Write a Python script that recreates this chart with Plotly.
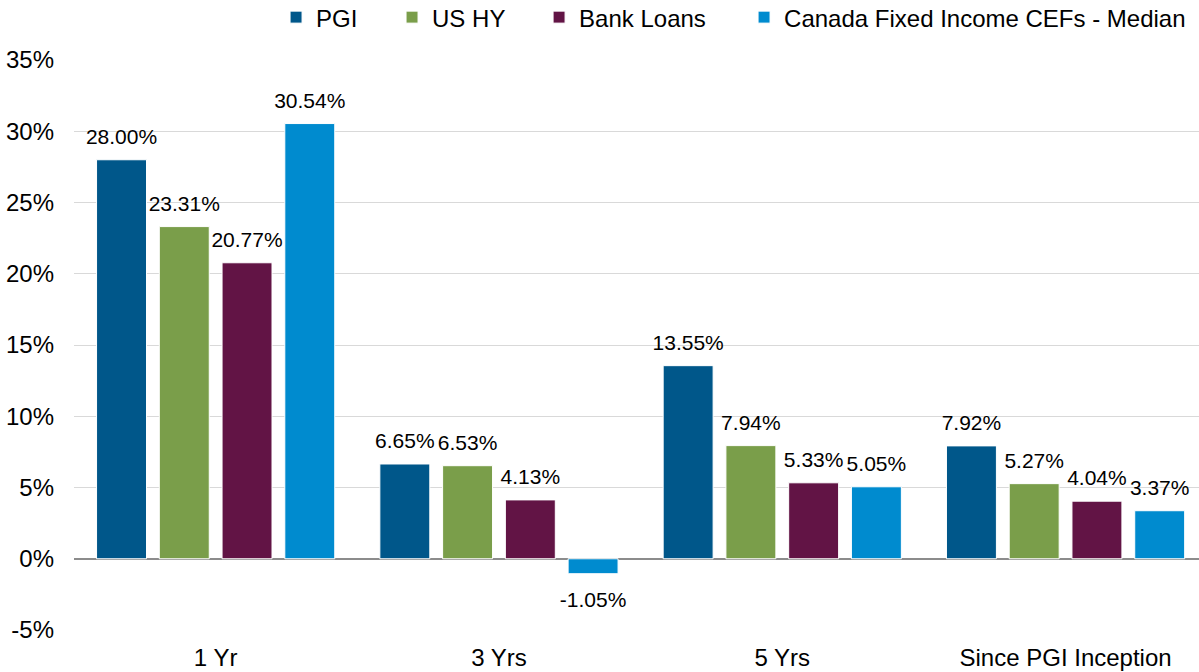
import plotly.graph_objects as go

categories = ["1 Yr", "3 Yrs", "5 Yrs", "Since PGI Inception"]
series_names = ["PGI", "US HY", "Bank Loans", "Canada Fixed Income CEFs - Median"]
pgi = [28.00, 6.65, 13.55, 7.92]
us_hy = [23.31, 6.53, 7.94, 5.27]
bank_loans = [20.77, 4.13, 5.33, 4.04]
canada_cefs = [30.54, -1.05, 5.05, 3.37]
colors = ["#00578A", "#7A9E4A", "#621445", "#008BCF"]
y_ticks = [-5, 0, 5, 10, 15, 20, 25, 30, 35]
y_tick_labels = [f"{v}%" for v in y_ticks]

FONT = "Liberation Sans, Arial, sans-serif"
NB = "\u00a0"

def spacer(size):
    return f"<span style='font-size:{size}px'>{NB}</span>"

legend_names = ["legend", "legend2", "legend3", "legend4"]
legend_x = [0.1796, 0.2827, 0.4134, 0.5956]

fig = go.Figure()
for i, (name, vals, col) in enumerate(zip(series_names, [pgi, us_hy, bank_loans, canada_cefs], colors)):
    texts = []
    for v in vals:
        lab = f"{v:.2f}%"
        sz = 62 if v >= 0 else 33
        texts.append(spacer(sz) + lab + spacer(sz))
    fig.add_trace(go.Bar(
        name=name, x=categories, y=vals,
        marker=dict(color=col, line=dict(color="white", width=1)),
        text=texts, textposition="outside", constraintext="none",
        cliponaxis=False,
        textfont=dict(family=FONT, size=21, color="#000000"),
        hoverinfo="skip",
        legend=legend_names[i],
    ))

leg_common = dict(orientation="h", xanchor="left", yanchor="middle", y=1.0745,
                  font=dict(family=FONT, size=24, color="#000000"),
                  bgcolor="rgba(0,0,0,0)", borderwidth=0, itemwidth=30)

fig.update_layout(
    width=1199, height=672,
    barmode="group", bargap=0.114, bargroupgap=0.204,
    plot_bgcolor="white", paper_bgcolor="white",
    margin=dict(l=74, r=0, t=59.5, b=41.8, autoexpand=False),
    font=dict(family=FONT, size=24, color="#000000"),
    showlegend=True,
    xaxis=dict(showgrid=False, showline=False, ticks="", tickfont=dict(size=24),
               range=[-0.5, 3.471], ticklabelstandoff=11),
    yaxis=dict(range=[-5, 35], tickvals=y_ticks, ticktext=y_tick_labels,
               showgrid=True, gridcolor="#D9D9D9", gridwidth=1,
               zeroline=True, zerolinecolor="#8C8C8C", zerolinewidth=1.5,
               showline=False, ticks="", tickfont=dict(size=24),
               ticklabelstandoff=19),
)
for ln, lx in zip(legend_names, legend_x):
    fig.update_layout({ln: dict(leg_common, x=lx)})

fig.write_html("out.html", config={"displayModeBar": False},
               post_script="document.body.style.margin='0';document.body.style.overflow='hidden';")
